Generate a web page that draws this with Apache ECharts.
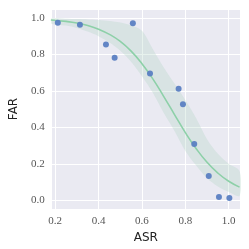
<!DOCTYPE html>
<html><head><meta charset="utf-8">
<script src="https://cdn.jsdelivr.net/npm/echarts@6/dist/echarts.min.js"></script>
<style>html,body{margin:0;padding:0;background:#fff}#c{width:249px;height:249px}</style>
</head><body><div id="c"></div>
<script>
// scatter points (ASR, FAR)
const asr = [0.212, 0.314, 0.434, 0.474, 0.558, 0.637, 0.769, 0.789, 0.841, 0.908, 0.955, 1.003];
const far = [0.973, 0.962, 0.854, 0.781, 0.971, 0.695, 0.611, 0.527, 0.308, 0.133, 0.018, 0.012];
// fitted curve and confidence band
const fitX  = [0.18, 0.25, 0.30, 0.35, 0.40, 0.45, 0.50, 0.55, 0.60, 0.65, 0.70, 0.75, 0.80, 0.85, 0.90, 0.95, 1.00, 1.05];
const fitY  = [0.989, 0.981, 0.972, 0.958, 0.938, 0.910, 0.871, 0.818, 0.749, 0.666, 0.570, 0.470, 0.371, 0.283, 0.208, 0.149, 0.104, 0.072];
const bandHi = [0.997, 0.996, 0.994, 0.992, 0.988, 0.983, 0.975, 0.960, 0.930, 0.830, 0.730, 0.640, 0.550, 0.450, 0.335, 0.255, 0.200, 0.160];
const bandLo = [0.970, 0.958, 0.945, 0.925, 0.900, 0.865, 0.820, 0.760, 0.680, 0.590, 0.480, 0.380, 0.270, 0.190, 0.120, 0.075, 0.045, 0.025];
const xTicks = ['0.2', '0.4', '0.6', '0.8', '1.0'];
const yTicks = ['0.0', '0.2', '0.4', '0.6', '0.8', '1.0'];

const chart = echarts.init(document.getElementById('c'), null, {renderer: 'canvas'});
const tickFont = {fontFamily: "'Liberation Serif', serif", fontSize: 11, color: '#555'};
chart.setOption({
  animation: false,
  backgroundColor: '#fff',
  grid: {left: 44, right: 9, top: 9, bottom: 40, show: true, backgroundColor: '#eaeaf2', borderWidth: 0},
  xAxis: {
    type: 'value', min: 0.1836, max: 1.052,
    name: 'ASR', nameLocation: 'middle', nameGap: 17,
    nameTextStyle: {fontFamily: "'DejaVu Sans', sans-serif", fontSize: 12, color: '#222'},
    axisLine: {show: false}, axisTick: {show: false},
    splitLine: {lineStyle: {color: '#fff', width: 1}},
    axisLabel: Object.assign({margin: 7, showMinLabel: false, showMaxLabel: false,
      formatter: v => { const s = v.toFixed(1); return xTicks.includes(s) && Math.abs(v - parseFloat(s)) < 1e-6 ? s : ''; }}, tickFont)
  },
  yAxis: {
    type: 'value', min: -0.048, max: 1.049,
    name: 'FAR', nameLocation: 'middle', nameGap: 28,
    nameTextStyle: {fontFamily: "'DejaVu Sans', sans-serif", fontSize: 12, color: '#222'},
    axisLine: {show: false}, axisTick: {show: false},
    splitLine: {lineStyle: {color: '#fff', width: 1}},
    axisLabel: Object.assign({margin: 7, showMinLabel: false, showMaxLabel: false,
      formatter: v => { const s = v.toFixed(1); return yTicks.includes(s) && Math.abs(v - parseFloat(s)) < 1e-6 ? s : ''; }}, tickFont)
  },
  series: [
    {
      type: 'custom', z: 1, clip: true,
      data: [[0]],
      renderItem: (params, api) => {
        const pts = [];
        for (let i = 0; i < fitX.length; i++) pts.push(api.coord([fitX[i], bandHi[i]]));
        for (let i = fitX.length - 1; i >= 0; i--) pts.push(api.coord([fitX[i], bandLo[i]]));
        return {type: 'polygon', shape: {points: pts, smooth: 0.3}, style: {fill: 'rgba(170,210,190,0.28)'}};
      }
    },
    {
      type: 'line', z: 2, smooth: true, symbol: 'none',
      data: fitX.map((x, i) => [x, fitY[i]]),
      lineStyle: {color: '#8dd0a8', width: 1.6}
    },
    {
      type: 'scatter', z: 3, symbolSize: 6,
      data: asr.map((x, i) => [x, far[i]]),
      itemStyle: {color: '#5b7fc2', opacity: 0.95}
    }
  ]
});
</script></body></html>
